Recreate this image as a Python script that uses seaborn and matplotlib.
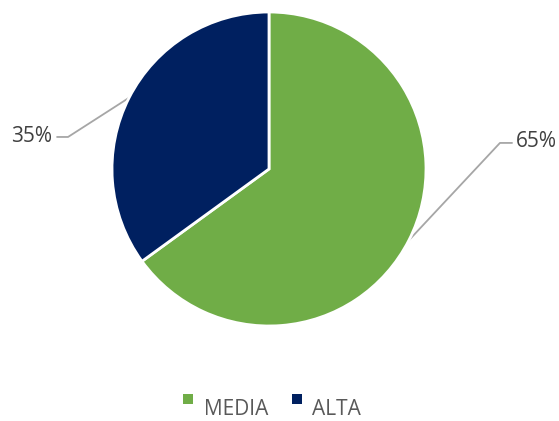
import numpy as np
import matplotlib
matplotlib.use('Agg')
import matplotlib.pyplot as plt
from matplotlib.lines import Line2D
from matplotlib.path import Path
import seaborn as sns

# Data
categories = ['MEDIA', 'ALTA']
values = [65, 35]
labels = ['65%', '35%']
colors = ['#70AD47', '#002060']

sns.set_theme(style='white')
plt.rcParams['font.family'] = ['Open Sans', 'DejaVu Sans']

fig = plt.figure(figsize=(5.59, 4.21), dpi=100)
W, H = 559, 421
cx, cy, r = 269, 169, 157
ax = fig.add_axes([(cx - r) / W, (H - cy - r) / H, 2 * r / W, 2 * r / H])

wedges, _ = ax.pie(values, colors=colors, startangle=90, counterclock=False,
                   wedgeprops=dict(edgecolor='white', linewidth=2))
ax.set_xlim(-1, 1)
ax.set_ylim(-1, 1)
ax.axis('off')

# Leader lines and labels (bend point, end point, text anchor)
leaders = [
    ((1.471, 0.166), (1.548, 0.166), (1.573, 0.178), 'left'),
    ((-1.280, 0.204), (-1.350, 0.204), (-1.382, 0.210), 'right'),
]
for w, lab, (bend, end, txt, ha) in zip(wedges, labels, leaders):
    ang = np.deg2rad((w.theta1 + w.theta2) / 2)
    start = (np.cos(ang), np.sin(ang))
    ax.plot([start[0], bend[0], end[0]], [start[1], bend[1], end[1]],
            color='#A6A6A6', lw=1.3, clip_on=False, zorder=0)
    ax.text(txt[0], txt[1], lab, ha=ha, va='center', fontsize=15,
            color='#404040', clip_on=False)

# square marker raised above the text line
sq = Path([(-0.5, 0.3), (0.5, 0.3), (0.5, 1.3), (-0.5, 1.3), (-0.5, 0.3)],
          [Path.MOVETO, Path.LINETO, Path.LINETO, Path.LINETO, Path.CLOSEPOLY])
handles = [Line2D([0], [0], marker=sq, linestyle='none', markersize=19,
                  markerfacecolor=c, markeredgecolor=c, markeredgewidth=0)
           for c in colors]
fig.legend(handles, categories, loc='center', bbox_to_anchor=(0.485, 0.028),
           ncol=2, frameon=False, fontsize=15, handletextpad=0.4,
           columnspacing=1.0, labelcolor='#595959', handlelength=0.7,
           borderpad=0)

fig.savefig('out.png', dpi=100)
